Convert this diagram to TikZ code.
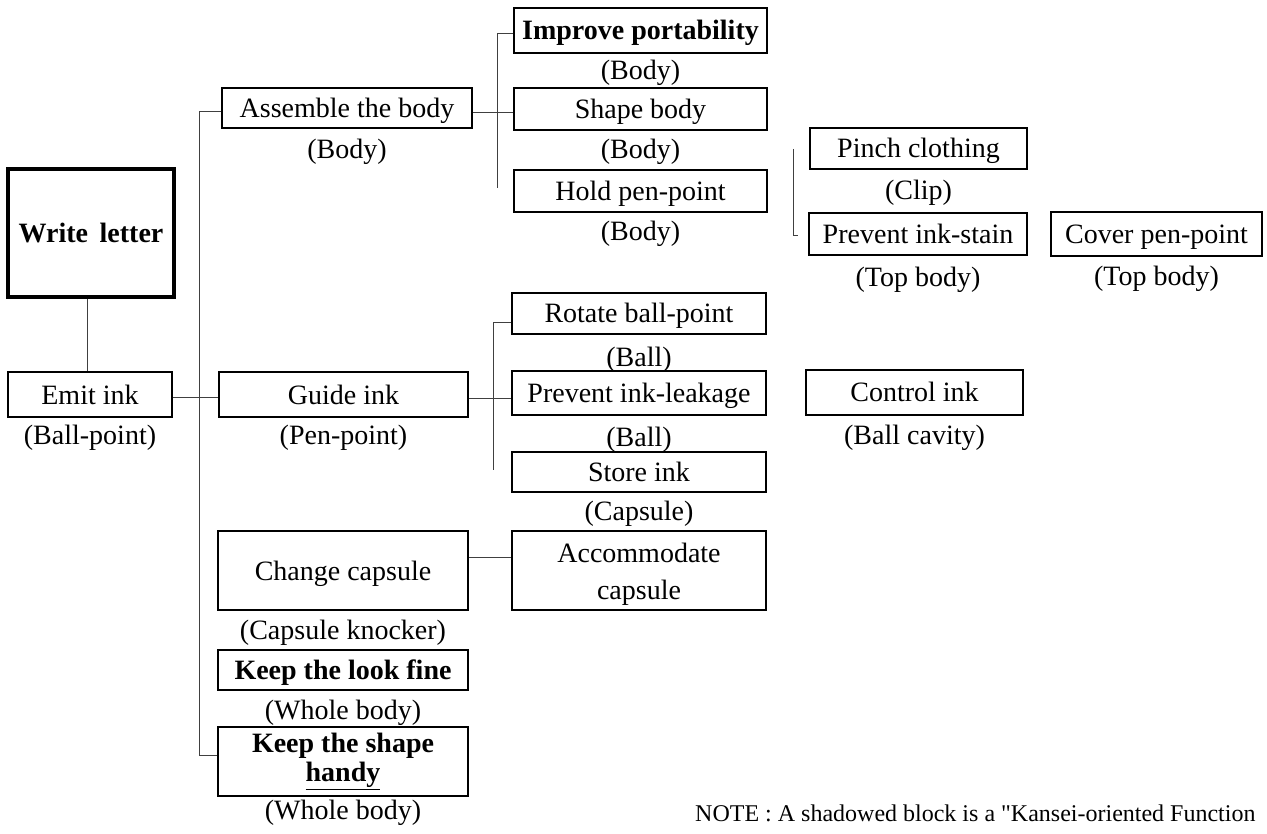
\documentclass[tikz,border=0pt]{standalone}
\usepackage{fontspec}
\setmainfont{Liberation Serif}
\newfontfamily\notefont{Liberation Serif}
\begin{document}
\begin{tikzpicture}[x=1pt,y=-1pt,
  mbox/.style={draw, line width=1.4pt, inner sep=0pt, align=center,
    font=\fontsize{28}{34}\selectfont},
  box/.style={mbox, text height=19pt, text depth=0pt},
  lbl/.style={inner sep=0pt, font=\fontsize{28}{30}\selectfont},
  conn/.style={draw=black!75, line width=0.9pt}]
\useasboundingbox (0,0) rectangle (1267,834);
% level 0/1
\node[box, line width=4pt, minimum width=166pt, minimum height=128pt, font=\fontsize{28}{30}\selectfont\bfseries] (wl) at (91,233) {Write\, letter};
\node[box, minimum width=164pt, minimum height=45pt] (emit) at (90,394.5) {Emit ink};
\node[lbl] (emitl) at (90,438) {(Ball-point)};
% level 2
\node[box, minimum width=250pt, minimum height=40pt] (assemble) at (347,108) {Assemble the body};
\node[lbl] (assemblel) at (347,152) {(Body)};
\node[box, minimum width=249pt, minimum height=45pt] (guide) at (343.5,394.5) {Guide ink};
\node[lbl] (guidel) at (343.5,438) {(Pen-point)};
\node[box, minimum width=250pt, minimum height=79pt] (change) at (343,570.5) {Change capsule};
\node[lbl] (changel) at (343,633) {(Capsule knocker)};
\node[box, minimum width=250pt, minimum height=40pt, font=\fontsize{28}{30}\selectfont\bfseries] (look) at (343,670) {Keep the look fine};
\node[lbl] (lookl) at (343,713) {(Whole body)};
\node[mbox, minimum width=250pt, minimum height=69pt, font=\fontsize{28}{29}\selectfont\bfseries] (handy) at (343,761.5) {Keep the shape\\\underline{handy}};
\node[lbl] (handyl) at (343,813) {(Whole body)};
% level 3
\node[box, minimum width=253pt, minimum height=45pt, font=\fontsize{28}{30}\selectfont\bfseries] (improve) at (640.5,30.5) {Improve portability};
\node[lbl] (improvel) at (640.5,73) {(Body)};
\node[box, minimum width=253pt, minimum height=42pt] (shape) at (640.5,109) {Shape body};
\node[lbl] (shapel) at (640.5,152) {(Body)};
\node[box, minimum width=253pt, minimum height=42pt] (hold) at (640.5,191) {Hold pen-point};
\node[lbl] (holdl) at (640.5,234) {(Body)};
\node[box, minimum width=254pt, minimum height=41pt] (rotate) at (639,313.5) {Rotate ball-point};
\node[lbl] (rotatel) at (639,360) {(Ball)};
\node[box, minimum width=254pt, minimum height=44pt] (leak) at (639,393) {Prevent ink-leakage};
\node[lbl] (leakl) at (639,440) {(Ball)};
\node[box, minimum width=254pt, minimum height=40pt] (store) at (639,472) {Store ink};
\node[lbl] (storel) at (639,514) {(Capsule)};
\node[mbox, minimum width=254pt, minimum height=79pt] (accom) at (639,570.5) {\rule{0pt}{26pt}Accommodate\\[3pt]capsule};
% level 4
\node[box, minimum width=217pt, minimum height=41pt] (pinch) at (918.5,148.5) {Pinch clothing};
\node[lbl] (pinchl) at (918.5,193) {(Clip)};
\node[box, minimum width=218pt, minimum height=42pt] (stain) at (918,234) {Prevent ink-stain};
\node[lbl] (stainl) at (918,280) {(Top body)};
\node[box, minimum width=211pt, minimum height=44pt] (cover) at (1156.5,234) {Cover pen-point};
\node[lbl] (coverl) at (1156.5,279) {(Top body)};
\node[box, minimum width=217pt, minimum height=45pt] (control) at (914.5,392.5) {Control ink};
\node[lbl] (controll) at (914.5,438) {(Ball cavity)};
% note
\node[lbl, anchor=west, font=\fontsize{24}{28}\notefont] (note) at (695,813) {NOTE : A shadowed block is a "Kansei-oriented Function};
% connector coordinates
\coordinate (t1) at (199,111);
\coordinate (t2) at (199,755);
\coordinate (b1) at (497,33);
\coordinate (b2) at (497,188);
\coordinate (g1) at (493,322);
\coordinate (g2) at (493,470);
\coordinate (p1) at (793,149);
\coordinate (p2) at (793,235);
\coordinate (p3) at (798,235);
% connectors
\draw[conn] ([xshift=-4pt]wl.south) -- ([xshift=-3pt]emit.north);
\draw[conn] (assemble.west |- t1) -- (t1) -- (t2) -- (handy.west |- t2);
\draw[conn] ([yshift=-3pt]emit.east) -- ([yshift=-3pt]guide.west);
\draw[conn] ([yshift=-4pt]assemble.east) -- ([yshift=-4pt]assemble.east -| shape.west);
\draw[conn] (improve.west |- b1) -- (b1) -- (b2);
\draw[conn] (rotate.west |- g1) -- (g1) -- (g2);
\draw[conn] ([yshift=-4pt]guide.east) -- ([yshift=-4pt]guide.east -| leak.west);
\draw[conn] (p1) -- (p2) -- (p3);
\draw[conn] ([yshift=13pt]change.east) -- ([yshift=13pt]accom.west);
\end{tikzpicture}
\end{document}
